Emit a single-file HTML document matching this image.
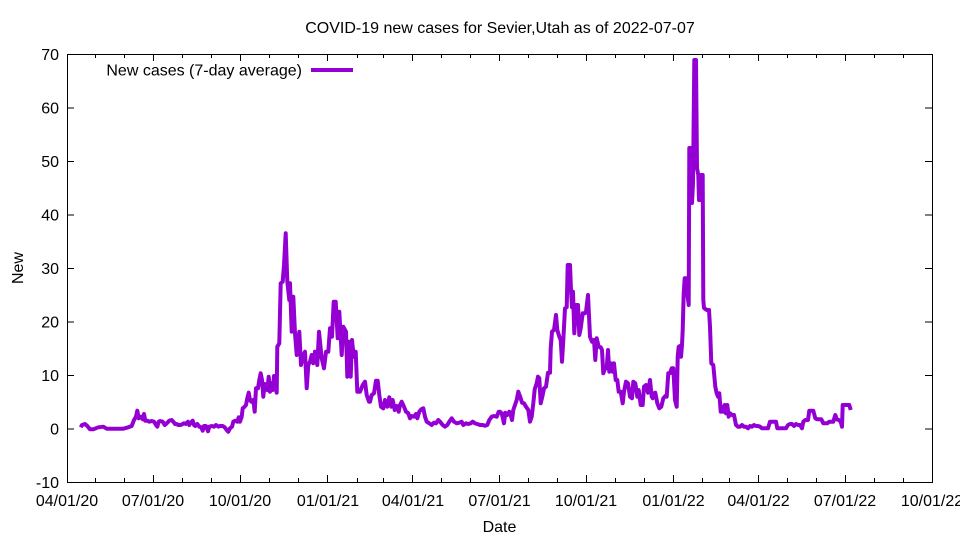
<!DOCTYPE html>
<html><head><meta charset="utf-8"><style>
html,body{margin:0;padding:0;background:#fff;}
svg{display:block;}
text{font-family:"Liberation Sans",Arial,sans-serif;font-size:16px;fill:#000;}
</style></head><body>
<svg width="960" height="540" viewBox="0 0 960 540" xmlns="http://www.w3.org/2000/svg">
<rect width="960" height="540" fill="#fff"/>
<text x="500" y="33" text-anchor="middle">COVID-19 new cases for Sevier,Utah as of 2022-07-07</text>
<g stroke="#000" stroke-width="1" fill="none" shape-rendering="crispEdges">
<rect x="67.5" y="54.5" width="865" height="428"/>
<!-- y major ticks -->
<path d="M67 482.5h7M932 482.5h-7 M67 429h7M932 429h-7 M67 375.5h7M932 375.5h-7 M67 322h7M932 322h-7 M67 268.5h7M932 268.5h-7 M67 215h7M932 215h-7 M67 161.5h7M932 161.5h-7 M67 108h7M932 108h-7 M67 54.5h7M932 54.5h-7"/>
<!-- x major ticks -->
<path d="M153.5 482v-7M153.5 54v7 M240.5 482v-7M240.5 54v7 M327.5 482v-7M327.5 54v7 M412.5 482v-7M412.5 54v7 M499.5 482v-7M499.5 54v7 M586.5 482v-7M586.5 54v7 M673.5 482v-7M673.5 54v7 M758.5 482v-7M758.5 54v7 M845.5 482v-7M845.5 54v7"/>
<!-- x minor ticks -->
<path d="M95.5 482v-4M95.5 54v4 M124.5 482v-4M124.5 54v4 M182.5 482v-4M182.5 54v4 M211.5 482v-4M211.5 54v4 M269.5 482v-4M269.5 54v4 M298.5 482v-4M298.5 54v4 M357.5 482v-4M357.5 54v4 M383.5 482v-4M383.5 54v4 M441.5 482v-4M441.5 54v4 M470.5 482v-4M470.5 54v4 M528.5 482v-4M528.5 54v4 M557.5 482v-4M557.5 54v4 M615.5 482v-4M615.5 54v4 M644.5 482v-4M644.5 54v4 M702.5 482v-4M702.5 54v4 M729.5 482v-4M729.5 54v4 M787.5 482v-4M787.5 54v4 M816.5 482v-4M816.5 54v4 M874.5 482v-4M874.5 54v4 M903.5 482v-4M903.5 54v4"/>
</g>
<g text-anchor="end">
<text x="59" y="488">-10</text>
<text x="59" y="434.5">0</text>
<text x="59" y="381">10</text>
<text x="59" y="327.5">20</text>
<text x="59" y="274">30</text>
<text x="59" y="220.5">40</text>
<text x="59" y="167">50</text>
<text x="59" y="113.5">60</text>
<text x="59" y="60">70</text>
</g>
<g text-anchor="middle">
<text x="67" y="506">04/01/20</text>
<text x="153" y="506">07/01/20</text>
<text x="240" y="506">10/01/20</text>
<text x="328" y="506">01/01/21</text>
<text x="413" y="506">04/01/21</text>
<text x="499.5" y="506">07/01/21</text>
<text x="586" y="506">10/01/21</text>
<text x="673.5" y="506">01/01/22</text>
<text x="758.5" y="506">04/01/22</text>
<text x="845" y="506">07/01/22</text>
<text x="932" y="506">10/01/22</text>
<text x="499.5" y="532">Date</text>
</g>
<text x="23" y="268" text-anchor="middle" transform="rotate(-90 23 268)">New</text>
<text x="302" y="75.5" text-anchor="end">New cases (7-day average)</text>
<line x1="311" y1="70" x2="353" y2="70" stroke="#9400D3" stroke-width="4"/>
<polyline fill="none" stroke="#9400D3" stroke-width="4" stroke-linejoin="round" stroke-linecap="butt" points="
80.7,427.3 82,425 85,424 87.3,426 90,429.3 93.3,429.3 98.3,427.3 103.3,426.7 106.7,428.7 113.3,428.7 123.3,428.7 128.3,427.3 131.7,426 134,420 136,416.7 137.3,410.7 138.7,418.3 140.7,416.7 142.7,419.3 144,414 145.3,420.7 147.3,420.7 149.3,421.7 151.7,421 154,421.7 156,425 157.3,426.7 158.7,421.7 160,421 162.7,421.7 164.7,425 166,424 167.3,422.7 169.3,420.7 171.7,420 173.3,421.7 175,424 176.7,424 178.3,425 180.7,425 182.7,424 184,423.3 186,424 188,421.7 189.3,425 190.7,422.7 192.7,420.7 194,425 195.3,426 197.3,424 199.3,426.7 201.3,427.3 202.7,430.7 204,426 206,426 208,431.3 209.3,426.7 211.7,426 214,426.7 216,425 218.3,426.7 220,426 222.7,426 224.7,427.3 226.7,430 228.3,431.7 230,428.3 232,426.7 233.3,421.7 235.3,420.7 237.3,421.7 238.7,417.3 240,421.7 241.7,416.7 242.7,408.3 244,407.3 246,405 247.3,398.3 248.7,392.7 250,400 251.3,401.7 253.3,400 254.7,411.7 256,388.3 258,388.3 259.3,380 260.7,373.3 262,380 263.3,396.7 264.7,384 266,388.3 267.3,390 268.7,376.7 270,391.7 271.3,383.3 272.7,390 274,376 275.3,386.7 276.7,392.7 277.3,346.7
279.3,343.3 280.7,283.3 282.7,281.7 284,265 285.7,233.3 287.3,281.7 289.3,300 290,283.3 291.7,331.7 293.3,296.7 295,333.3 296.7,355 299.3,331.7 301,365 302.7,356.7 305,351.7 306.7,388.3 308.3,365 310,361.7 311.7,355 313.3,363.3 315,351.7 317.3,365 319,331.7 321.7,358.3 324,368.3 326,351.7 328.3,351.7 330,328.3 332,336.7 333.7,301.7 335.7,301.7 337.7,338.3 339.3,311.7 341.7,355 343.3,326.7 346,331.7 347.3,376.7 349,341.7 350.7,376.7 352,340 353.7,356.7 355.7,351.7 357.3,391.7 360,391.7 362.7,385 365,381.7 366.7,395 369,401.7
370,401.7 371.7,395 374,393.3 376,380.7 377.7,380.7 379.3,395 381,406.7 383.3,408.3 385,400 387.3,406.7 389.3,397.3 391.3,406.7 392.7,400 394.7,410 396.7,406 398.7,411.7 400,405 401.7,401.7 404,406.7 406,411.7 408.3,413.3 410,418.3 411.7,416 414,416.7 416,414 417.3,418.3 419.3,411.7 421.3,409.3 423.3,408.3 425,416.7 426.7,421.7 429.3,423.3 431.7,425 434,422.7 436,423.3 438.3,420 440,421.7 442.7,425 445,426.7 447.3,425 449.3,421.7 451.7,418.3 454,421.7 456.7,423.3 459.3,422.7 461.7,421.7 463.3,425 466,423.3 468.3,424 470.7,423.3 472.7,421.7 475,423.3 477.3,424 480,425 482.7,425 485,425.7 487.3,425 489.3,420 491.7,416.7 494,416 496.7,416.7 498.7,411.7
500,411.7 501.7,413.3 504,423.3 505.3,412.7 507.3,415 509.3,411.7 510.7,415 512,420 513.3,410 515,405 516.7,400 518.3,391.7 520.7,398.3 522,402.7 524,403.3 526,406.7 528.3,410 530,421.7 531.7,416.7 533.3,403.3 534.7,389.3 536.7,383.3 538,376.7 539.3,378.3 540.7,403.3 542.7,395 544,388.3 546,386.7 548,372.7 550,372.7 550.7,348.3 552,331.7 554,330 556,315 557.3,330 559.3,336.7 560.7,340 562,361.7 563.3,340 565,308.3 566.7,307.3 567.7,265 570,265 571,290 572,307.3 573,291.7 574.3,333.3 576,305 578,305 579.3,335 580.7,328.3 582.7,313.3 585,313.3 586,311.7 588,295 590,336.7 592,341.7 594,340 595.3,360 596.7,338.3 598.7,346.7 600.7,347.3 602,350 603.3,373.3 605,368.3 606.7,368.3 608,350 609.3,371.7 611,363.3 612.7,371.7 614,363.3 615.7,380 617.3,380 618.7,391.7 620.7,391.7 622.7,403.3 624,391.7 626,381.7 628,383.3 630,396.7 632,398.3 633.3,381.7 635.3,383.3 637.3,396.7 638.7,390 640.7,405 642.7,405 644,386.7 646,385 648,392.7 650,380 651.7,396.7 652.7,398.3 654,393.3 655.3,392.7 657.3,403.3 659.3,408.3 661.3,406.7 663.3,398.3 665.3,396 666.7,396.7 668.3,373.3 670,373.3 671.7,368.3 673.3,368.3 675,400
676.7,406.7 677.7,356.7 678.7,346.7 680,346 681,356.7 682,345 682.7,330 683.7,293.3 684.7,278.3 686,278.3 687.3,293.3 688.7,305 689.3,148 691,148 692,203 693,183 694.3,60 696,60 697,168 698.3,175 699,200 700.3,200 701,175 702.7,175 703.3,300 704,308 706.7,310 709,310 710,326.7 711.3,363.3 713.3,365 715.3,386.7 716.7,393.3 718,396.7 719.3,393.3 720.7,411.7 722,406.7 723.3,411.7 724.7,405 726,413.3 727.3,405 728.7,416.7 730,413.3 732,415 734,415 736,425 738,426.7 740,426.7 742,425 744,426.7 746,426.7 748,428.3 750,426 752,426.7 754,425 756,426 758,426 760,426.7 762,428.3 764,428.3 766,428.3 768,428.3 770,421.7 772,421.7 774,421.7 776,421.7 777.3,428.3 780,428.3 782,428.3 784,428.3 786,428.3 788,425 790,424 792,424 794,426 796,424 798,425 800,425 802,428.3 803.3,421.7 805.3,420 808,420 809.3,410.7 811.3,410.7 813.3,410.7 815.3,418.3 817.3,419.3 819.3,419.3 821.3,419.3 823.3,423.3 825.3,423.3 827.3,423.3 829.3,421.7 831.3,421.7 833.3,421.7 835.3,415 836.7,419.3 838.7,420 840.7,421.7 842,426.7 842.7,405 844.7,405 847.3,405 849.3,405 850.7,410"/>
</svg>
</body></html>
